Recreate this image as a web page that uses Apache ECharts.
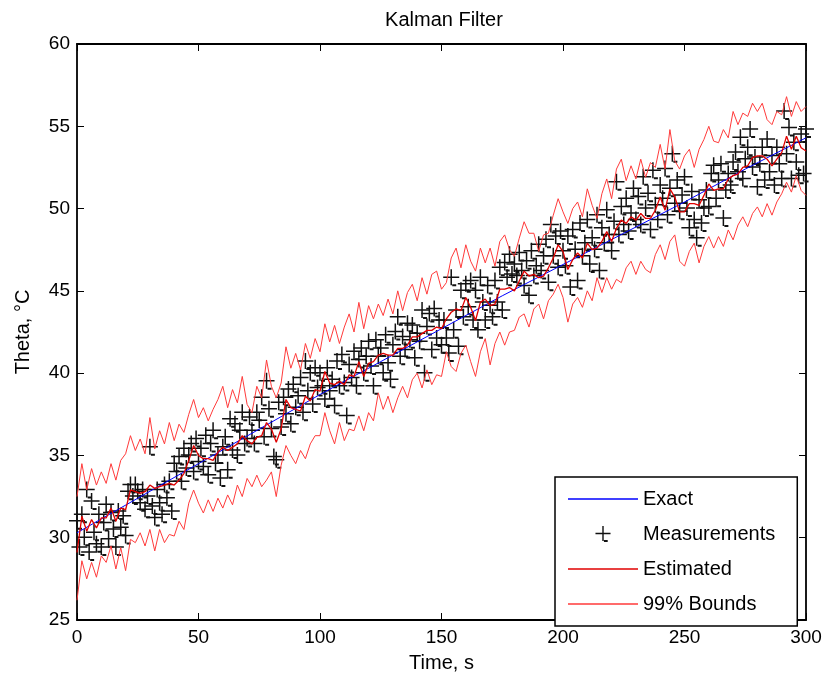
<!DOCTYPE html>
<html><head><meta charset="utf-8">
<script src="https://cdn.jsdelivr.net/npm/echarts@6/dist/echarts.min.js"></script>
<style>html,body{margin:0;padding:0;background:#fff}#c{width:829px;height:684px}</style>
</head><body><div id="c"></div>
<script>
// Time ticks
const xTicks = [0, 50, 100, 150, 200, 250, 300];
const yTicks = [25, 30, 35, 40, 45, 50, 55, 60];
// Exact temperature, every 25 s
const exactStep = 25;
const exact = [30.3, 32.4, 34.5, 36.6, 38.7, 40.7, 42.7, 44.7, 46.6, 48.5, 50.4, 52.4, 54.3];
// Measurements, every 1 s (t = 0..300)
const measStep = 1;
const measurements = [31.0,
29.4,31.4,30.0,32.9,29.1,32.2,30.3,29.6,31.4,29.4,
30.9,32.0,29.9,31.5,30.5,29.4,31.6,30.6,31.3,30.1,
32.8,33.2,32.5,33.2,32.8,32.1,32.9,31.7,32.5,35.5,
31.9,31.2,32.9,32.1,31.4,33.2,32.4,33.4,31.6,34.5,
34.0,34.9,33.4,35.4,34.2,35.0,35.7,34.0,36.0,34.6,
35.4,34.3,36.2,33.8,35.7,36.5,34.5,35.0,33.6,35.5,
36.1,34.1,37.2,35.3,36.9,35.0,36.5,37.6,35.7,36.0,
37.3,36.5,35.7,37.6,37.1,38.5,36.1,39.5,37.8,36.6,
34.9,34.7,38.2,36.7,38.5,37.5,39.0,36.9,39.3,37.9,
38.6,39.7,37.6,40.7,38.9,40.0,38.1,40.3,39.1,40.0,
39.2,38.4,40.3,38.9,39.6,38.0,40.7,39.2,41.1,39.4,
37.4,40.5,39.7,41.3,39.2,40.8,41.5,40.0,41.0,41.9,
40.4,39.2,42.0,41.0,41.5,40.0,42.3,40.6,39.6,41.7,
42.5,43.4,41.0,42.2,41.4,43.0,42.0,42.9,40.9,42.4,
41.9,43.8,40.0,42.8,43.6,41.4,43.9,42.1,43.2,41.7,
43.2,42.1,41.2,45.8,42.6,43.8,41.6,45.0,43.4,45.4,
44.0,45.6,43.2,45.0,42.6,45.8,44.3,43.2,45.3,44.1,
43.4,45.6,44.3,46.4,43.8,46.7,45.8,47.2,46.0,46.6,
45.9,47.3,46.2,45.3,46.8,44.7,47.4,45.9,46.5,47.8,
46.2,47.1,48.1,45.5,49.0,47.1,48.3,46.4,48.6,47.4,
46.5,48.3,45.2,48.7,47.5,45.6,49.1,47.1,47.9,49.3,
46.6,48.2,47.5,49.6,46.2,48.8,47.9,49.9,48.4,47.4,
49.2,51.6,48.4,50.1,49.0,50.6,48.6,49.7,51.2,49.3,
50.7,49.0,51.9,50.0,50.9,48.7,52.3,50.2,49.3,51.4,
50.6,52.4,49.6,51.2,53.3,50.3,51.7,49.8,50.8,51.9,
50.0,48.8,51.0,49.3,48.2,50.5,49.1,50.0,51.1,50.1,
52.1,52.6,50.6,51.7,52.7,49.4,51.1,52.1,51.4,52.8,
53.4,52.2,54.3,51.8,53.0,53.7,54.8,52.5,53.1,51.3,
52.7,53.7,51.7,54.2,52.2,53.2,51.4,53.7,52.7,51.8,
55.9,53.3,54.9,51.8,54.0,52.8,52.0,54.5,52.1,54.8];
// Estimated and 99% bounds, every 2 s (t = 0..300)
const estStep = 2;
const estimated = [
29.1,31.3,30.4,31.1,30.6,31.2,31.2,31.8,31.0,31.8,
31.7,32.9,32.8,32.7,32.8,33.2,33.0,33.1,33.2,33.3,
33.2,33.5,33.9,34.7,35.6,35.0,34.8,34.8,34.7,35.2,
35.5,35.3,35.5,35.7,36.2,35.9,35.7,36.1,36.2,37.0,
36.6,35.8,36.6,38.4,37.9,37.8,37.7,38.6,38.3,39.0,
38.9,40.1,39.4,39.3,39.5,39.3,39.9,39.8,40.7,39.8,
40.6,40.7,41.1,41.2,41.1,41.1,41.5,41.5,41.7,42.2,
42.2,42.4,42.6,42.6,42.8,42.7,43.3,43.7,43.9,43.8,
44.6,44.0,43.2,44.3,44.5,44.1,44.2,45.1,45.1,45.2,
45.0,45.6,46.2,45.9,46.0,45.8,45.9,46.4,47.0,47.8,
47.4,46.3,46.9,47.3,47.0,47.9,47.5,47.6,48.0,48.6,
48.0,48.8,49.3,49.1,49.5,49.3,49.7,49.4,49.4,49.9,
50.7,49.9,51.2,50.7,49.8,49.8,50.3,50.3,50.2,50.8,
51.5,51.1,51.2,51.2,51.8,52.0,52.1,52.5,52.6,53.1,
53.2,53.2,53.0,52.6,53.0,53.4,54.4,53.6,54.4,53.7,
53.5];
const upperBound = [
32.5,34.5,32.9,34.2,33.2,34.0,33.3,34.5,33.5,34.7,
35.1,36.2,35.3,36.0,35.1,37.3,35.4,36.5,35.7,37.0,
35.9,36.9,36.4,37.5,38.4,37.3,37.9,37.1,37.8,38.4,
39.2,37.9,39.0,38.2,39.8,38.1,37.6,39.2,38.5,40.8,
39.2,38.5,39.4,41.6,40.3,41.2,40.2,41.8,40.9,42.1,
41.3,43.0,41.9,42.9,41.8,42.8,43.6,42.5,44.3,42.7,
44.1,43.3,44.2,43.5,44.5,43.6,45.0,43.8,44.9,45.4,
44.4,45.8,44.8,46.0,46.2,45.1,45.5,47.0,47.6,46.4,
47.8,46.8,46.2,47.6,46.7,47.6,46.5,48.0,48.4,47.5,
47.1,48.2,49.2,48.5,48.5,47.4,48.4,48.5,49.6,50.6,
49.8,49.1,50.0,50.4,49.5,51.2,50.2,49.4,50.9,51.8,
50.6,52.4,53.0,51.7,52.6,51.8,53.0,51.9,52.8,52.5,
53.9,52.4,54.8,52.9,52.4,53.2,53.6,52.5,53.6,54.2,
55.0,54.1,54.0,54.8,54.3,55.9,55.1,55.8,55.6,56.4,
55.9,56.4,55.4,55.1,55.9,55.7,56.8,55.6,56.5,55.9,
56.2];
const lowerBound = [
26.2,28.6,27.5,28.5,27.6,28.9,28.5,29.5,28.1,29.4,
28.0,29.9,29.7,30.3,29.5,30.5,29.2,30.5,29.7,30.2,
30.1,31.0,30.5,32.1,32.9,32.1,31.5,32.3,31.6,32.4,
31.8,32.6,32.0,33.2,32.5,33.6,33.1,33.8,33.1,33.5,
34.0,32.5,34.4,35.6,35.0,34.5,35.3,34.8,35.7,36.2,
36.2,37.6,36.5,35.7,37.0,35.9,36.6,36.5,37.4,36.5,
37.6,37.1,38.8,37.8,38.6,37.6,38.5,39.2,38.5,39.6,
40.0,39.1,40.2,39.3,39.9,39.8,41.3,40.4,40.1,41.2,
41.7,40.7,39.8,41.3,42.1,40.5,41.8,42.5,41.7,42.5,
42.6,43.4,43.6,42.8,43.9,44.2,43.3,44.4,44.8,45.4,
44.6,43.1,44.2,44.6,44.0,45.0,44.4,45.8,44.9,45.8,
45.1,45.7,45.5,46.4,46.8,46.0,46.8,46.3,46.1,47.2,
47.8,46.9,48.0,48.4,46.8,46.5,47.4,47.9,46.7,47.7,
48.3,47.6,48.3,47.7,48.7,48.1,49.0,49.5,48.9,49.7,
50.1,49.5,50.3,49.6,50.4,50.9,51.6,51.0,52.0,51.1,
50.8];

const FONT = '"Liberation Sans", Arial, Helvetica, sans-serif';
const toXY = (arr, step) => arr.map((v, i) => [i * step, v]);
const plusPath = 'path://M0,7.25H16V8.75H0Z M7.25,0H8.75V16H7.25Z M9,15H13V17H9Z';
const linePath = 'path://M0,0H67V1.3H0Z';

const chart = echarts.init(document.getElementById('c'), null, {renderer: 'canvas'});
const axisCommon = {
  type: 'value', min: 0, max: 300, interval: 50,
  axisLine: {show: true, onZero: false, lineStyle: {color: '#000', width: 1.8}},
  axisTick: {show: true, inside: true, length: 7, lineStyle: {color: '#000', width: 1}},
  splitLine: {show: false}
};
chart.setOption({
  animation: false,
  backgroundColor: '#fff',
  title: {text: 'Kalman Filter', left: 439, top: 5, textAlign: 'center',
    textStyle: {fontFamily: FONT, fontSize: 20, fontWeight: 'normal', color: '#000'}},
  grid: {left: 77, top: 44, width: 729, height: 576},
  xAxis: [
    Object.assign({}, axisCommon, {position: 'bottom', name: 'Time, s', nameLocation: 'middle', nameGap: 33,
      nameTextStyle: {fontFamily: FONT, fontSize: 20, color: '#000'},
      axisLabel: {fontFamily: FONT, fontSize: 19, color: '#000', margin: 8,
        formatter: v => xTicks.includes(v) ? String(v) : ''}}),
    Object.assign({}, axisCommon, {position: 'top', axisLabel: {show: false}})
  ],
  yAxis: [
    Object.assign({}, axisCommon, {min: 25, max: 60, interval: 5, position: 'left', name: 'Theta, °C',
      nameLocation: 'middle', nameGap: 44,
      nameTextStyle: {fontFamily: FONT, fontSize: 20, color: '#000'},
      axisLabel: {fontFamily: FONT, fontSize: 19, color: '#000', margin: 7,
        formatter: v => yTicks.includes(v) ? String(v) : ''}}),
    Object.assign({}, axisCommon, {min: 25, max: 60, interval: 5, position: 'right', axisLabel: {show: false}})
  ],
  legend: {
    orient: 'vertical', left: 555, top: 477,
    padding: [12, 22, 12, 13], itemWidth: 70, itemHeight: 16, itemGap: 15,
    backgroundColor: '#fff', borderColor: '#000', borderWidth: 1.5,
    textStyle: {fontFamily: FONT, fontSize: 20, color: '#000'},
    data: [
      {name: 'Exact', icon: linePath},
      {name: 'Measurements', icon: plusPath},
      {name: 'Estimated', icon: linePath},
      {name: '99% Bounds', icon: linePath}
    ]
  },
  series: [
    {name: 'Measurements', type: 'scatter', data: toXY(measurements, measStep),
      symbol: plusPath, symbolSize: [16, 17], itemStyle: {color: '#111', opacity: 1}, z: 2},
    {name: 'Exact', type: 'line', data: toXY(exact, exactStep), showSymbol: false, symbol: 'none',
      lineStyle: {color: '#0000ff', width: 1}, itemStyle: {color: '#0000ff'}, z: 3},
    {name: 'Estimated', type: 'line', data: toXY(estimated, estStep), showSymbol: false, symbol: 'none',
      lineStyle: {color: '#e00000', width: 1.3}, itemStyle: {color: '#e00000'}, z: 4},
    {name: '99% Bounds', type: 'line', data: toXY(upperBound, estStep), showSymbol: false, symbol: 'none',
      lineStyle: {color: '#ff3a3a', width: 1}, itemStyle: {color: '#ff3a3a'}, z: 4},
    {name: '99% Bounds', type: 'line', data: toXY(lowerBound, estStep), showSymbol: false, symbol: 'none',
      lineStyle: {color: '#ff3a3a', width: 1}, itemStyle: {color: '#ff3a3a'}, z: 4}
  ]
});
</script></body></html>
